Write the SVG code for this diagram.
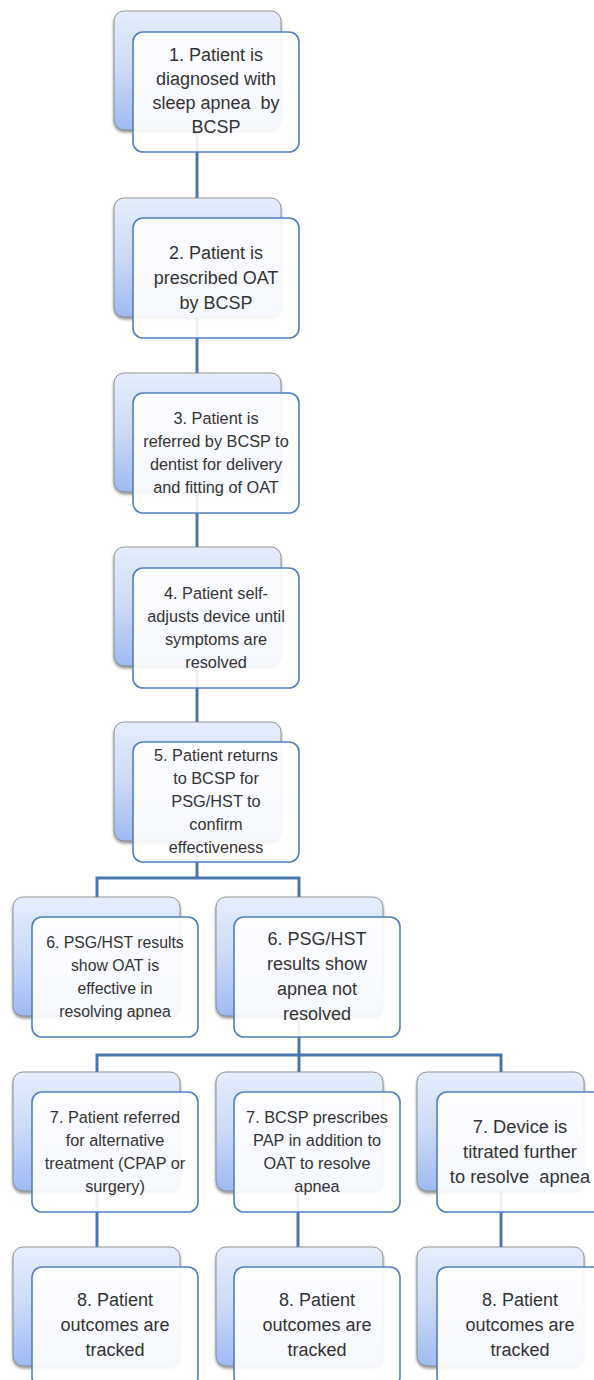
<svg xmlns="http://www.w3.org/2000/svg" width="594" height="1380" viewBox="0 0 594 1380">
<defs>
<linearGradient id="bg" x1="0" y1="0" x2="0" y2="1">
<stop offset="0" stop-color="#e6eefc"/>
<stop offset="0.5" stop-color="#cbdaf8"/>
<stop offset="1" stop-color="#9dbaf3"/>
</linearGradient>
<filter id="sh" x="-10%" y="-10%" width="120%" height="125%">
<feDropShadow dx="0" dy="2" stdDeviation="1.5" flood-color="#000" flood-opacity="0.45"/>
</filter>
</defs>
<style>
.back{fill:url(#bg);stroke:#7d7d7d;stroke-width:0.8;filter:url(#sh)}
.front{fill:#ffffff;fill-opacity:0.9;stroke:#4f81bd;stroke-width:1.6}
.t{font-family:"Liberation Sans",Arial,sans-serif;fill:#333333;text-anchor:middle}
.l{font-size:18px}
.s{font-size:16.3px}
.conn{stroke:#4a76b0;stroke-width:3;fill:none}
</style>
<g id="connectors">
<path class="conn" d="M197,131 V198 M197,317 V373 M197,492 V547 M197,667 V722"/>
<path class="conn" d="M197,841 V878 M97,897 V878 H299 V897"/>
<path class="conn" d="M299,1016 V1055 M97,1072 V1055 H501 V1072 M299,1055 V1072"/>
<path class="conn" d="M97,1191 V1247 M298,1191 V1247 M501,1191 V1247"/>
</g>
<g id="node1">
<rect class="back" x="114" y="11" width="167" height="119" rx="10"/>
<rect class="front" x="133" y="32" width="166" height="120" rx="10"/>
<text class="t l" x="216" xml:space="preserve"><tspan x="216" y="61">1. Patient is</tspan><tspan x="216" y="85">diagnosed with</tspan><tspan x="216" y="109">sleep apnea  by</tspan><tspan x="216" y="133">BCSP</tspan></text>
</g>
<g id="node2">
<rect class="back" x="114" y="198" width="167" height="119" rx="10"/>
<rect class="front" x="133" y="218" width="166" height="120" rx="10"/>
<text class="t l"><tspan x="216" y="259">2. Patient is</tspan><tspan x="216" y="284">prescribed OAT</tspan><tspan x="216" y="309">by BCSP</tspan></text>
</g>
<g id="node3">
<rect class="back" x="114" y="373" width="167" height="119" rx="10"/>
<rect class="front" x="133" y="393" width="166" height="120" rx="10"/>
<text class="t s"><tspan x="216" y="424">3. Patient is</tspan><tspan x="216" y="447">referred by BCSP to</tspan><tspan x="216" y="470">dentist for delivery</tspan><tspan x="216" y="493">and fitting of OAT</tspan></text>
</g>
<g id="node4">
<rect class="back" x="114" y="547" width="167" height="119" rx="10"/>
<rect class="front" x="133" y="568" width="166" height="120" rx="10"/>
<text class="t s"><tspan x="216" y="599">4. Patient self-</tspan><tspan x="216" y="622">adjusts device until</tspan><tspan x="216" y="645">symptoms are</tspan><tspan x="216" y="668">resolved</tspan></text>
</g>
<g id="node5">
<rect class="back" x="114" y="722" width="167" height="119" rx="10"/>
<rect class="front" x="133" y="742" width="166" height="120" rx="10"/>
<text class="t s"><tspan x="216" y="761">5. Patient returns</tspan><tspan x="216" y="784">to BCSP for</tspan><tspan x="216" y="807">PSG/HST to</tspan><tspan x="216" y="830">confirm</tspan><tspan x="216" y="853">effectiveness</tspan></text>
</g>
<g id="node6a">
<rect class="back" x="13" y="897" width="167" height="119" rx="10"/>
<rect class="front" x="32" y="917" width="166" height="120" rx="10"/>
<text class="t" style="font-size:15.8px"><tspan x="115" y="948">6. PSG/HST results</tspan><tspan x="115" y="971">show OAT is</tspan><tspan x="115" y="994">effective in</tspan><tspan x="115" y="1017">resolving apnea</tspan></text>
</g>
<g id="node6b">
<rect class="back" x="216" y="897" width="167" height="119" rx="10"/>
<rect class="front" x="234" y="917" width="166" height="120" rx="10"/>
<text class="t l"><tspan x="317" y="945">6. PSG/HST</tspan><tspan x="317" y="970">results show</tspan><tspan x="317" y="995">apnea not</tspan><tspan x="317" y="1020">resolved</tspan></text>
</g>
<g id="node7a">
<rect class="back" x="13" y="1072" width="167" height="119" rx="10"/>
<rect class="front" x="32" y="1092" width="166" height="120" rx="10"/>
<text class="t s"><tspan x="115" y="1123">7. Patient referred</tspan><tspan x="115" y="1146">for alternative</tspan><tspan x="115" y="1169">treatment (CPAP or</tspan><tspan x="115" y="1192">surgery)</tspan></text>
</g>
<g id="node7b">
<rect class="back" x="216" y="1072" width="167" height="119" rx="10"/>
<rect class="front" x="234" y="1092" width="166" height="120" rx="10"/>
<text class="t s"><tspan x="317" y="1123">7. BCSP prescribes</tspan><tspan x="317" y="1146">PAP in addition to</tspan><tspan x="317" y="1169">OAT to resolve</tspan><tspan x="317" y="1192">apnea</tspan></text>
</g>
<g id="node7c">
<rect class="back" x="417" y="1072" width="167" height="119" rx="10"/>
<rect class="front" x="437" y="1092" width="166" height="120" rx="10"/>
<text class="t" style="font-size:18.3px" xml:space="preserve"><tspan x="520" y="1133">7. Device is</tspan><tspan x="520" y="1158">titrated further</tspan><tspan x="520" y="1183">to resolve  apnea</tspan></text>
</g>
<g id="node8a">
<rect class="back" x="13" y="1247" width="167" height="119" rx="10"/>
<rect class="front" x="32" y="1267" width="166" height="120" rx="10"/>
<text class="t l"><tspan x="115" y="1306">8. Patient</tspan><tspan x="115" y="1331">outcomes are</tspan><tspan x="115" y="1356">tracked</tspan></text>
</g>
<g id="node8b">
<rect class="back" x="216" y="1247" width="167" height="119" rx="10"/>
<rect class="front" x="234" y="1267" width="166" height="120" rx="10"/>
<text class="t l"><tspan x="317" y="1306">8. Patient</tspan><tspan x="317" y="1331">outcomes are</tspan><tspan x="317" y="1356">tracked</tspan></text>
</g>
<g id="node8c">
<rect class="back" x="417" y="1247" width="167" height="119" rx="10"/>
<rect class="front" x="437" y="1267" width="166" height="120" rx="10"/>
<text class="t l"><tspan x="520" y="1306">8. Patient</tspan><tspan x="520" y="1331">outcomes are</tspan><tspan x="520" y="1356">tracked</tspan></text>
</g>
</svg>
